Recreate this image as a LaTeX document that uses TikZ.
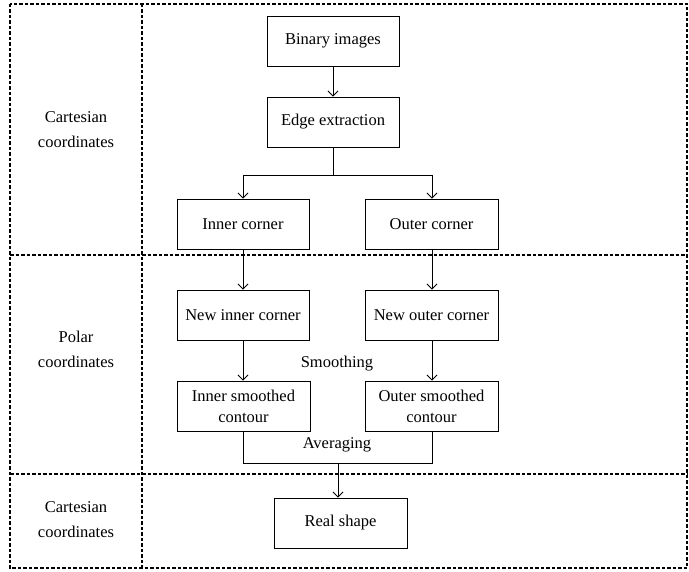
\documentclass[tikz,border=0pt]{standalone}
\usepackage{fontspec}
\setmainfont{Liberation Serif}
\usetikzlibrary{arrows.meta}
\begin{document}
\begin{tikzpicture}[x=1pt,y=-1pt,
  box/.style={draw,line width=0.9pt,minimum width=132pt,minimum height=50pt,inner sep=1pt,align=center,font=\fontsize{16.5}{21}\selectfont},
  sect/.style={draw,line width=1.7pt,dash pattern=on 3.5pt off 2pt},
  lbl/.style={align=center,font=\fontsize{16.5}{25}\selectfont},
  txt/.style={font=\fontsize{16.5}{21}\selectfont},
  conn/.style={line width=0.8pt},
  arr/.style={conn,-{Straight Barb[length=5pt,width=10pt]}}]
\useasboundingbox (0,0) rectangle (689,572);
% sections
\draw[sect] (10,4) rectangle (687,568);
\draw[sect] (142,4) -- (142,568);
\draw[sect] (10,255) -- (687,255);
\draw[sect] (10,474) -- (687,474);
% side labels
\node[lbl] (c1) at (76,130) {Cartesian\\coordinates};
\node[lbl] (p1) at (76,349) {Polar\\coordinates};
\node[lbl] (c2) at (76,520) {Cartesian\\coordinates};
% boxes
\node[box] (bin) at (333,41) {Binary images};
\node[box] (edge) at (333,122) {Edge extraction};
\node[box] (ic) at (243,224) {Inner corner};
\node[box,minimum width=133pt] (oc) at (431.5,224) {Outer corner};
\node[box] (nic) at (243,315) {New inner corner};
\node[box,minimum width=133pt] (noc) at (431.5,315) {New outer corner};
\node[box,minimum width=133pt] (isc) at (243.5,406) {Inner smoothed\\contour};
\node[box,minimum width=133pt] (osc) at (431.5,406) {Outer smoothed\\contour};
\node[box,minimum width=133pt] (rs) at (340.5,523) {Real shape};
\node[txt] (sm) at (337,364) {Smoothing};
\node[txt] (av) at (337,445) {Averaging};
% coordinates
\coordinate (br) at (333,175);
\coordinate (bl) at (243,175);
\coordinate (bR) at (432,175);
\coordinate (ml) at (243,463);
\coordinate (mr) at (432,463);
\coordinate (mm) at (338,463);
% connectors
\draw[arr] (bin) -- (edge);
\draw[conn] (edge.south) -- (br);
\draw[conn] (bl) -- (bR);
\draw[arr] (bl) -- (bl |- ic.north);
\draw[arr] (bR) -- (bR |- oc.north);
\draw[arr] (ic.south) -- (nic.north);
\draw[arr] (oc.south -| bR) -- (bR |- noc.north);
\draw[arr] (nic.south) -- (nic.south |- isc.north);
\draw[arr] (noc.south -| bR) -- (bR |- osc.north);
\draw[conn] (ml |- isc.south) -- (ml) -- (mr) -- (mr |- osc.south);
\draw[arr] (mm) -- (mm |- rs.north);
\end{tikzpicture}
\end{document}
